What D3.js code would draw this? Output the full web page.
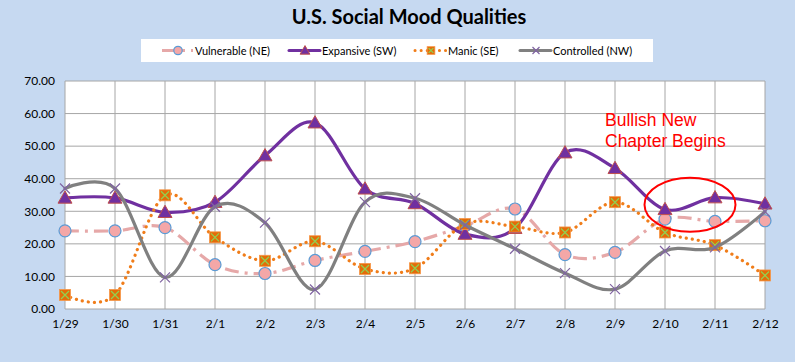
<!DOCTYPE html>
<html>
<head>
<meta charset="utf-8">
<script src="https://cdn.jsdelivr.net/npm/d3@7"></script>
<style>
  body { margin: 0; background: #c6d9f1; }
  svg { display: block; }
</style>
</head>
<body>
<script>
// categories and series
const days = ["1/29","1/30","1/31","2/1","2/2","2/3","2/4","2/5","2/6","2/7","2/8","2/9","2/10","2/11","2/12"];
const vulnerable = [24.0, 24.0, 25.0, 13.6, 10.9, 14.9, 17.7, 20.7, 25.5, 30.7, 16.7, 17.4, 27.6, 26.9, 27.1];
const expansive  = [34.1, 34.1, 29.7, 32.8, 47.1, 57.2, 36.9, 32.4, 23.0, 24.8, 48.0, 43.2, 30.6, 34.2, 32.3];
const manic      = [4.3, 4.3, 34.9, 22.0, 14.8, 20.8, 12.3, 12.5, 26.1, 25.3, 23.5, 32.8, 23.5, 19.6, 10.3];
const controlled = [37.0, 37.0, 9.7, 31.4, 26.5, 6.0, 32.8, 34.0, 25.8, 18.5, 11.0, 6.1, 17.8, 18.9, 29.9];
const yTicks = [0, 10, 20, 30, 40, 50, 60, 70];

const width = 795, height = 362;
const margin = {left: 65, right: 30, top: 81, bottom: 53};

const svg = d3.select("body").append("svg")
  .attr("width", width)
  .attr("height", height);

svg.append("rect").attr("width", width).attr("height", height).attr("fill", "#c6d9f1");

// title
svg.append("text")
  .attr("x", 409).attr("y", 24)
  .attr("text-anchor", "middle")
  .style("font-family", "Lato, 'Open Sans', sans-serif")
  .style("font-weight", "bold")
  .style("font-size", "20px")
  .attr("fill", "#000")
  .text("U.S.  Social Mood Qualities");

var x = d3.scalePoint()
  .domain(days)
  .range([margin.left, width - margin.right]);

var y = d3.scaleLinear()
  .domain([0, 70])
  .range([height - margin.bottom, margin.top]);

// plot area
svg.append("rect")
  .attr("x", margin.left).attr("y", margin.top)
  .attr("width", width - margin.right - margin.left)
  .attr("height", height - margin.bottom - margin.top)
  .attr("fill", "#fff");

// gridlines
svg.append("g").selectAll("line")
  .data(yTicks)
  .enter().append("line")
  .attr("x1", margin.left).attr("x2", width - margin.right)
  .attr("y1", d => y(d)).attr("y2", d => y(d))
  .attr("stroke", "#a6a6a6").attr("stroke-width", 1);

svg.append("g").selectAll("line")
  .data(days)
  .enter().append("line")
  .attr("x1", d => x(d)).attr("x2", d => x(d))
  .attr("y1", y(0)).attr("y2", y(70))
  .attr("stroke", "#a6a6a6").attr("stroke-width", 1);

// axes (labels only)
var y_axis = d3.axisLeft(y).tickValues(yTicks).tickFormat(d3.format(".2f")).tickSize(0).tickPadding(10);
var gy = svg.append("g").attr("transform", "translate(" + margin.left + ",0)").call(y_axis);
gy.select(".domain").remove();

var x_axis = d3.axisBottom(x).tickSize(0).tickPadding(10);
var gx = svg.append("g").attr("transform", "translate(0," + y(0) + ")").call(x_axis);
gx.select(".domain").remove();

svg.selectAll(".tick text")
  .style("font-family", "Lato, 'Open Sans', sans-serif")
  .style("font-size", "12px")
  .attr("fill", "#000");

var line = d3.line()
  .x((d, i) => x(days[i]))
  .y(d => y(d))
  .curve(d3.curveCardinal.tension(0));

const series = [
  {name: "Vulnerable (NE)", data: vulnerable, color: "#e6a8a8", dash: "14,6,3,6", cap: "butt", marker: "circle"},
  {name: "Expansive (SW)", data: expansive, color: "#7030a0", dash: null, cap: "round", marker: "triangle"},
  {name: "Manic (SE)", data: manic, color: "#f07d1a", dash: "0.1,6", cap: "round", marker: "square"},
  {name: "Controlled (NW)", data: controlled, color: "#808080", dash: null, cap: "round", marker: "x"}
];

function drawMarker(g, type, cx, cy, s) {
  if (type == "circle") {
    g.append("circle").attr("cx", cx).attr("cy", cy).attr("r", 6 * s)
      .attr("fill", "#f4a7a7").attr("stroke", "#5b9bd5").attr("stroke-width", 1.2);
  } else if (type == "triangle") {
    var r = 7 * s;
    g.append("path")
      .attr("d", "M" + cx + "," + (cy - r) + "L" + (cx + r) + "," + (cy + r * 0.75) + "L" + (cx - r) + "," + (cy + r * 0.75) + "Z")
      .attr("fill", "#7030a0").attr("stroke", "#c0504d").attr("stroke-width", 1);
  } else if (type == "square") {
    var h = 5.5 * s;
    g.append("rect").attr("x", cx - h).attr("y", cy - h).attr("width", 2 * h).attr("height", 2 * h)
      .attr("fill", "#e36c09").attr("stroke", "#f79646").attr("stroke-width", 0.8);
    g.append("path")
      .attr("d", "M" + (cx - h + 1.5) + "," + (cy - h + 1.5) + "L" + (cx + h - 1.5) + "," + (cy + h - 1.5) +
                 "M" + (cx + h - 1.5) + "," + (cy - h + 1.5) + "L" + (cx - h + 1.5) + "," + (cy + h - 1.5))
      .attr("stroke", "#92d050").attr("stroke-width", 1.3);
  } else {
    var k = 5 * s;
    g.append("path")
      .attr("d", "M" + (cx - k) + "," + (cy - k) + "L" + (cx + k) + "," + (cy + k) +
                 "M" + (cx + k) + "," + (cy - k) + "L" + (cx - k) + "," + (cy + k))
      .attr("stroke", "#8064a2").attr("stroke-width", 1.2);
  }
}

series.forEach(function (s) {
  var g = svg.append("g");
  g.append("path")
    .attr("d", line(s.data))
    .attr("fill", "none")
    .attr("stroke", s.color)
    .attr("stroke-width", 3.2)
    .attr("stroke-linecap", s.cap)
    .attr("stroke-dasharray", s.dash);
  s.data.forEach(function (d, i) {
    drawMarker(g, s.marker, x(days[i]), y(d), 1);
  });
});

// legend
var lg = svg.append("g");
lg.append("rect").attr("x", 141).attr("y", 39).attr("width", 512).attr("height", 23).attr("fill", "#fff");
const legendX = [162, 289, 415, 520];
series.forEach(function (s, i) {
  var lx = legendX[i], ly = 50.5;
  lg.append("line")
    .attr("x1", lx).attr("x2", lx + 31).attr("y1", ly).attr("y2", ly)
    .attr("stroke", s.color).attr("stroke-width", 3)
    .attr("stroke-linecap", s.cap)
    .attr("stroke-dasharray", s.dash);
  drawMarker(lg, s.marker, lx + 16, ly, 0.7);
  lg.append("text")
    .attr("x", lx + 33).attr("y", ly + 4)
    .style("font-family", "Lato, 'Open Sans', sans-serif")
    .style("font-size", "11px")
    .attr("fill", "#000")
    .text(s.name);
});

// annotation
var ann = svg.append("g")
  .style("font-family", "'Liberation Sans', Arial, sans-serif")
  .style("font-size", "17.5px")
  .attr("fill", "#ff0000");
ann.append("text").attr("x", 605).attr("y", 126).text("Bullish New");
ann.append("text").attr("x", 605).attr("y", 147).text("Chapter Begins");

svg.append("ellipse")
  .attr("cx", x("2/10") + 25).attr("cy", y(32))
  .attr("rx", 45.5).attr("ry", 27)
  .attr("fill", "none")
  .attr("stroke", "#ff0000")
  .attr("stroke-width", 2);
</script>
</body>
</html>
